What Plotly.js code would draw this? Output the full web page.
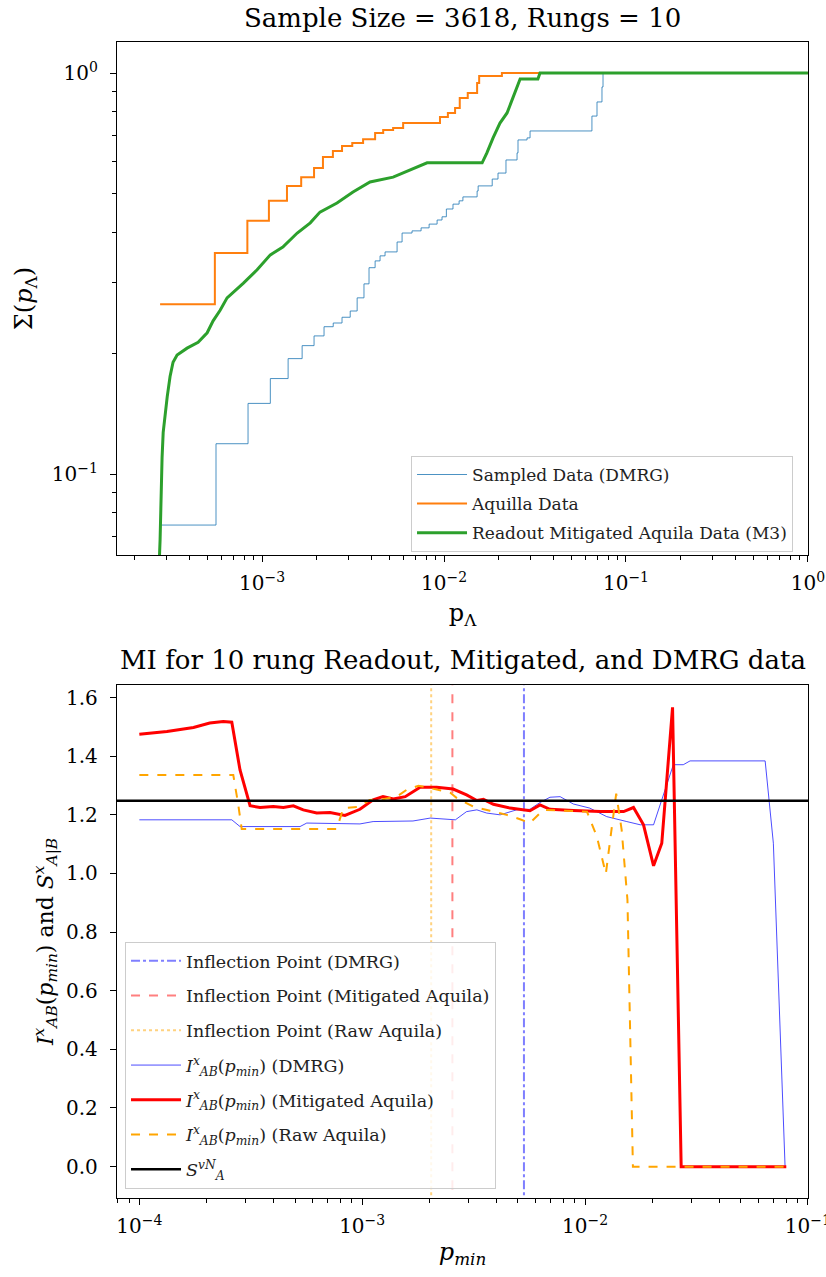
<!DOCTYPE html>
<html>
<head>
<meta charset="utf-8">
<script src="https://cdn.plot.ly/plotly-3.0.1.min.js"></script>
<style>html,body{margin:0;padding:0;background:#fff;}#chart{width:826px;height:1277px;}</style>
</head>
<body>
<div id="chart"></div>
<script>
// ---------- Top panel: cumulative Sigma(p_Lambda) ----------
const dmrgSampX = [2.75e-4, 5.58e-4, 8.37e-4, 1.11e-3, 1.39e-3, 1.66e-3, 1.93e-3, 2.19e-3, 2.46e-3, 2.75e-3, 3.05e-3, 3.33e-3, 3.63e-3, 3.87e-3, 4.18e-3, 4.45e-3, 4.74e-3, 5.52e-3, 5.88e-3, 6.67e-3, 7.48e-3, 8.28e-3, 9.16e-3, 9.75e-3, 1.03e-2, 1.12e-2, 1.21e-2, 1.27e-2, 1.52e-2, 1.54e-2, 1.84e-2, 1.98e-2, 2.19e-2, 2.52e-2, 2.55e-2, 2.86e-2, 2.97e-2, 6.50e-2, 6.93e-2, 7.38e-2, 7.48e-2, 1.0];
const dmrgSampY = [0.0746, 0.119, 0.150, 0.173, 0.194, 0.209, 0.221, 0.233, 0.238, 0.246, 0.255, 0.275, 0.298, 0.327, 0.340, 0.350, 0.358, 0.379, 0.399, 0.404, 0.411, 0.420, 0.430, 0.438, 0.458, 0.471, 0.480, 0.491, 0.508, 0.523, 0.544, 0.563, 0.607, 0.632, 0.681, 0.689, 0.717, 0.781, 0.847, 0.923, 1.0, 1.0];

const aquilaX = [2.75e-4, 5.5e-4, 8.3e-4, 1.09e-3, 1.37e-3, 1.64e-3, 1.93e-3, 2.16e-3, 2.45e-3, 2.75e-3, 3.13e-3, 3.59e-3, 4.18e-3, 4.63e-3, 5.25e-3, 5.96e-3, 9.5e-3, 1.05e-2, 1.15e-2, 1.22e-2, 1.35e-2, 1.52e-2, 1.56e-2, 2.08e-2, 1.0];
const aquilaY = [0.265, 0.356, 0.428, 0.48, 0.523, 0.55, 0.58, 0.617, 0.639, 0.658, 0.669, 0.684, 0.709, 0.721, 0.729, 0.750, 0.777, 0.795, 0.818, 0.866, 0.891, 0.944, 0.983, 1.0, 1.0];

const m3X = [2.70e-4, 2.75e-4, 2.82e-4, 2.86e-4, 3.01e-4, 3.12e-4, 3.24e-4, 3.41e-4, 3.87e-4, 4.45e-4, 4.99e-4, 5.38e-4, 5.88e-4, 6.42e-4, 7.87e-4, 9.39e-4, 1.11e-3, 1.30e-3, 1.56e-3, 1.84e-3, 2.08e-3, 2.58e-3, 3.16e-3, 3.92e-3, 5.25e-3, 6.50e-3, 8.07e-3, 1.62e-2, 1.72e-2, 1.86e-2, 2.03e-2, 2.22e-2, 2.45e-2, 2.62e-2, 3.28e-2, 3.37e-2, 1.0];
const m3Y = [0.055, 0.0685, 0.110, 0.127, 0.156, 0.175, 0.190, 0.198, 0.206, 0.213, 0.225, 0.241, 0.256, 0.275, 0.299, 0.323, 0.352, 0.368, 0.399, 0.423, 0.450, 0.474, 0.505, 0.535, 0.550, 0.573, 0.597, 0.597, 0.632, 0.689, 0.750, 0.795, 0.891, 0.966, 0.966, 1.0, 1.0];

// ---------- Bottom panel: mutual information ----------
const miDmrgX = [1e-4, 2.60e-4, 2.83e-4, 5.26e-4, 5.64e-4, 9.77e-4, 1.12e-3, 1.69e-3, 2.02e-3, 2.62e-3, 2.94e-3, 3.27e-3, 3.62e-3, 4.16e-3, 4.93e-3, 5.66e-3, 6.28e-3, 6.96e-3, 7.73e-3, 8.86e-3, 1.05e-2, 1.25e-2, 1.54e-2, 1.77e-2, 2.03e-2, 2.49e-2, 2.76e-2, 2.96e-2, 6.43e-2, 7.00e-2, 7.9e-2];
const miDmrgY = [1.183, 1.183, 1.160, 1.160, 1.172, 1.169, 1.177, 1.179, 1.189, 1.183, 1.211, 1.217, 1.206, 1.200, 1.217, 1.219, 1.242, 1.260, 1.262, 1.237, 1.223, 1.194, 1.177, 1.166, 1.166, 1.371, 1.371, 1.384, 1.384, 1.103, 0];

const miMitX = [1e-4, 1.33e-4, 1.75e-4, 2.07e-4, 2.38e-4, 2.60e-4, 2.83e-4, 3.14e-4, 3.48e-4, 3.99e-4, 4.43e-4, 4.91e-4, 5.44e-4, 6.25e-4, 7.17e-4, 8.37e-4, 9.77e-4, 1.12e-3, 1.24e-3, 1.38e-3, 1.56e-3, 1.82e-3, 2.16e-3, 2.56e-3, 2.94e-3, 3.27e-3, 3.50e-3, 3.88e-3, 4.61e-3, 5.66e-3, 6.28e-3, 6.96e-3, 8.86e-3, 1.17e-2, 1.49e-2, 1.65e-2, 1.83e-2, 2.03e-2, 2.21e-2, 2.47e-2, 2.70e-2, 8.0e-2];
const miMitY = [1.475, 1.484, 1.498, 1.513, 1.518, 1.516, 1.353, 1.231, 1.225, 1.228, 1.225, 1.231, 1.217, 1.206, 1.208, 1.198, 1.219, 1.251, 1.262, 1.254, 1.262, 1.294, 1.294, 1.288, 1.268, 1.249, 1.253, 1.236, 1.223, 1.214, 1.234, 1.219, 1.215, 1.211, 1.211, 1.225, 1.166, 1.026, 1.103, 1.567, 0, 0];

const miRawX = [1e-4, 2.64e-4, 2.78e-4, 2.88e-4, 7.69e-4, 8.23e-4, 9.77e-4, 1.08e-3, 1.24e-3, 1.43e-3, 1.58e-3, 1.79e-3, 2.02e-3, 2.48e-3, 2.66e-3, 3.15e-3, 3.75e-3, 4.45e-3, 5.11e-3, 5.66e-3, 6.50e-3, 7.73e-3, 1.02e-2, 1.13e-2, 1.24e-2, 1.32e-2, 1.38e-2, 1.46e-2, 1.51e-2, 1.55e-2, 1.64e-2, 8.0e-2];
const miRawY = [1.336, 1.336, 1.234, 1.152, 1.152, 1.223, 1.228, 1.251, 1.253, 1.262, 1.285, 1.299, 1.291, 1.276, 1.257, 1.228, 1.214, 1.200, 1.185, 1.172, 1.217, 1.214, 1.211, 1.126, 0.999, 1.160, 1.272, 1.149, 1.023, 0.91, 0, 0];

const inflDmrg = 5.32e-3;
const inflMit = 2.54e-3;
const inflRaw = 2.04e-3;
const sVN = 1.248;

const topXTicks = [1e-3, 1e-2, 1e-1, 1];
const topXTickText = ['10<sup>−3</sup>', '10<sup>−2</sup>', '10<sup>−1</sup>', '10<sup>0</sup>'];
const topYTicks = [0.1, 1];
const topYTickText = ['10<sup>−1</sup>', '10<sup>0</sup>'];
const botXTicks = [1e-4, 1e-3, 1e-2, 1e-1];
const botXTickText = ['10<sup>−4</sup>', '10<sup>−3</sup>', '10<sup>−2</sup>', '10<sup>−1</sup>'];

// ---------- helpers ----------
function minorLog(lo, hi) {
  const out = [];
  for (let e = lo; e <= hi; e++) {
    for (let d = 2; d <= 9; d++) out.push(d * Math.pow(10, e));
  }
  return out;
}

const FONT = 'DejaVu Serif, serif';
const yBot = [-0.2, 1.8];
const IAB = '<i>I</i><sup><i>x</i></sup><sub><i>AB</i></sub>(<i>p<sub>min</sub></i>)';

const traces = [
  {x: dmrgSampX, y: dmrgSampY, xaxis: 'x', yaxis: 'y', mode: 'lines', line: {shape: 'hv', color: '#1f77b4', width: 1}, opacity: 0.8, name: 'Sampled Data (DMRG)', legend: 'legend', legendgroup: 't1'},
  {x: aquilaX, y: aquilaY, xaxis: 'x', yaxis: 'y', mode: 'lines', line: {shape: 'hv', color: '#ff7f0e', width: 2}, name: 'Aquilla Data', legend: 'legend', legendgroup: 't2'},
  {x: m3X, y: m3Y, xaxis: 'x', yaxis: 'y', mode: 'lines', line: {color: '#2ca02c', width: 3}, name: 'Readout Mitigated Aquila Data (M3)', legend: 'legend', legendgroup: 't3'},

  {x: [inflDmrg, inflDmrg], y: yBot, xaxis: 'x2', yaxis: 'y2', mode: 'lines', line: {color: 'rgba(0,0,255,0.5)', width: 2, dash: 'dashdot'}, name: 'Inflection Point (DMRG)', legend: 'legend2', legendgroup: 'b1'},
  {x: [inflMit, inflMit], y: yBot, xaxis: 'x2', yaxis: 'y2', mode: 'lines', line: {color: 'rgba(255,0,0,0.5)', width: 2, dash: 'dash'}, name: 'Inflection Point (Mitigated Aquila)', legend: 'legend2', legendgroup: 'b2'},
  {x: [inflRaw, inflRaw], y: yBot, xaxis: 'x2', yaxis: 'y2', mode: 'lines', line: {color: 'rgba(255,165,0,0.5)', width: 2, dash: 'dot'}, name: 'Inflection Point (Raw Aquila)', legend: 'legend2', legendgroup: 'b3'},
  {x: miDmrgX, y: miDmrgY, xaxis: 'x2', yaxis: 'y2', mode: 'lines', line: {color: 'rgba(0,0,255,0.7)', width: 1}, name: IAB + ' (DMRG)', legend: 'legend2', legendgroup: 'b4'},
  {x: miMitX, y: miMitY, xaxis: 'x2', yaxis: 'y2', mode: 'lines', line: {color: '#ff0000', width: 3}, name: IAB + ' (Mitigated Aquila)', legend: 'legend2', legendgroup: 'b5'},
  {x: miRawX, y: miRawY, xaxis: 'x2', yaxis: 'y2', mode: 'lines', line: {color: '#ffa500', width: 2, dash: 'dash'}, name: IAB + ' (Raw Aquila)', legend: 'legend2', legendgroup: 'b6'},
  {x: [1e-5, 1], y: [sVN, sVN], xaxis: 'x2', yaxis: 'y2', mode: 'lines', line: {color: '#000000', width: 2.5}, name: '<i>S</i><sup><i>vN</i></sup><sub><i>A</i></sub>', legend: 'legend2', legendgroup: 'b7'}
];

const axisCommon = {
  showline: true, linecolor: '#000', linewidth: 1.2, mirror: true,
  ticks: 'outside', ticklen: 6, tickwidth: 1, tickcolor: '#000',
  showgrid: false, zeroline: false, ticklabelstandoff: 8, ticklabeloverflow: 'allow',
  tickfont: {family: FONT, size: 20, color: '#000'}
};

const layout = {
  width: 826, height: 1277,
  margin: {l: 117, r: 18, t: 42, b: 79},
  paper_bgcolor: '#fff', plot_bgcolor: '#fff',
  font: {family: FONT, color: '#000'},
  showlegend: true,
  xaxis: Object.assign({}, axisCommon, {
    type: 'log', range: [Math.log10(1.594e-4), 0.0005], domain: [0, 1], anchor: 'y',
    tickvals: topXTicks, ticktext: topXTickText, ticklabelstandoff: 4,
    minor: {tickvals: minorLog(-4, -1), ticks: 'outside', ticklen: 3.5, tickcolor: '#000', showgrid: false},
    title: {text: 'p<sub>Λ</sub>', font: {family: FONT, size: 24}, standoff: 10}
  }),
  yaxis: Object.assign({}, axisCommon, {
    type: 'log', range: [Math.log10(0.0628), Math.log10(1.195)], domain: [0.5562, 1], anchor: 'x',
    tickvals: topYTicks, ticktext: topYTickText,
    minor: {tickvals: minorLog(-2, -1), ticks: 'outside', ticklen: 3.5, tickcolor: '#000', showgrid: false},
    title: {text: 'Σ(<i>p</i><sub>Λ</sub>)', font: {family: FONT, size: 24}, standoff: 12}
  }),
  xaxis2: Object.assign({}, axisCommon, {
    type: 'log', range: [Math.log10(7.94e-5), -0.9995], domain: [0, 1], anchor: 'y2',
    tickvals: botXTicks, ticktext: botXTickText, ticklabelstandoff: 4,
    minor: {tickvals: minorLog(-5, -2), ticks: 'outside', ticklen: 3.5, tickcolor: '#000', showgrid: false},
    title: {text: '<i>p<sub>min</sub></i>', font: {family: FONT, size: 24}, standoff: 6}
  }),
  yaxis2: Object.assign({}, axisCommon, {
    type: 'linear', range: [-0.107, 1.643], domain: [0, 0.4438], anchor: 'x2',
    dtick: 0.2, tick0: 0, tickformat: '.1f',
    title: {text: IAB + ' and <i>S</i><sup><i>x</i></sup><sub><i>A|B</i></sub>', font: {family: FONT, size: 22}, standoff: 6}
  }),
  legend: {
    x: 0.4255, y: 0.6419, xanchor: 'left', yanchor: 'top',
    bgcolor: 'rgba(255,255,255,0.85)', bordercolor: '#cccccc', borderwidth: 1,
    tracegroupgap: 4, itemwidth: 50,
    font: {family: FONT, size: 17, color: '#222'}
  },
  legend2: {
    x: 0.0116, y: 0.2215, xanchor: 'left', yanchor: 'top',
    bgcolor: 'rgba(255,255,255,0.85)', bordercolor: '#cccccc', borderwidth: 1,
    tracegroupgap: 9, itemwidth: 50,
    font: {family: FONT, size: 17.5, color: '#222'}
  },
  annotations: [
    {text: 'Sample Size = 3618, Rungs = 10', xref: 'paper', yref: 'paper', x: 0.5, y: 1.0208, xanchor: 'center', yanchor: 'middle', showarrow: false, font: {family: FONT, size: 26, color: '#000'}},
    {text: 'MI for 10 rung Readout, Mitigated, and DMRG data', xref: 'paper', yref: 'paper', x: 0.5, y: 0.4654, xanchor: 'center', yanchor: 'middle', showarrow: false, font: {family: FONT, size: 26, color: '#000'}}
  ]
};

Plotly.newPlot('chart', traces, layout, {staticPlot: true, displayModeBar: false});
</script>
</body>
</html>
